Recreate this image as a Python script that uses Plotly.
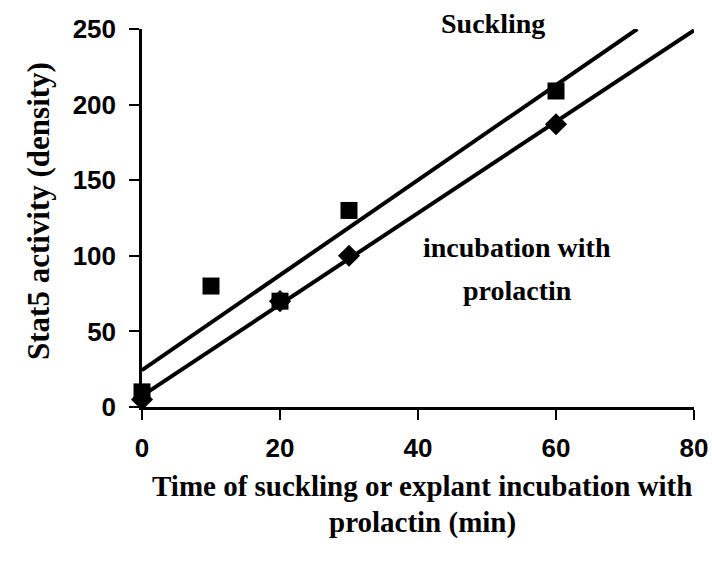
import numpy as np
import plotly.graph_objects as go

# Data
suck_x = [0, 10, 20, 30, 60]
suck_y = [10, 80, 70, 130, 209]
prl_x = [0, 20, 30, 60]
prl_y = [5, 70, 100, 187]

x_ticks = [0, 20, 40, 60, 80]
y_ticks = [0, 50, 100, 150, 200, 250]
x_range = [0, 80]
y_range = [0, 250]

SERIF = "Liberation Serif, Times New Roman, serif"
SANS = "Liberation Sans, Arial, sans-serif"

# The page body margin is removed (see post_script), so figure pixels = page pixels.
W, H = 712, 563
L, T = 142, 29
R = W - 694
B = H - 407
PW, PH = W - L - R, H - T - B


def px(xp):
    return (xp - L) / PW


def py(yp):
    return (H - B - yp) / PH


def fit_line(xs, ys, xmax, ymax):
    m, b = np.polyfit(xs, ys, 1)
    x_end = min(xmax, (ymax - b) / m)
    return [0, x_end], [b, m * x_end + b]


fig = go.Figure()

lx, ly = fit_line(suck_x, suck_y, x_range[1], y_range[1])
fig.add_trace(go.Scatter(x=lx, y=ly, mode="lines",
                         line=dict(color="black", width=4), cliponaxis=False,
                         showlegend=False, hoverinfo="skip"))
lx, ly = fit_line(prl_x, prl_y, x_range[1], y_range[1])
fig.add_trace(go.Scatter(x=lx, y=ly, mode="lines",
                         line=dict(color="black", width=4), cliponaxis=False,
                         showlegend=False, hoverinfo="skip"))

fig.add_trace(go.Scatter(x=suck_x, y=suck_y, mode="markers", name="Suckling",
                         marker=dict(symbol="square", size=17, color="black"),
                         cliponaxis=False, showlegend=False))
fig.add_trace(go.Scatter(x=prl_x, y=prl_y, mode="markers", name="incubation with prolactin",
                         marker=dict(symbol="diamond", size=17, color="black"),
                         cliponaxis=False, showlegend=False))


def label(text, xp, yp, size, angle=0):
    fig.add_annotation(x=px(xp), y=py(yp), xref="paper", yref="paper",
                       text=f"<b>{text}</b>", showarrow=False, textangle=angle,
                       xanchor="center", yanchor="middle",
                       font=dict(family=SERIF, size=size, color="black"))


label("Suckling", 493, 24, 28)
label("incubation with", 517, 247, 28)
label("prolactin", 517, 290, 28)
label("Time of suckling or explant incubation with", 422, 486, 29)
label("prolactin (min)", 422, 522, 29)
label("Stat5 activity (density)", 38, 211, 31, angle=-90)

fig.update_layout(
    width=W, height=H,
    margin=dict(l=L, r=R, t=T, b=B, autoexpand=False),
    paper_bgcolor="white", plot_bgcolor="white",
    font=dict(family=SANS, color="black"),
)
fig.update_xaxes(
    range=x_range, tickvals=x_ticks, ticktext=[f"<b>{v}</b>" for v in x_ticks],
    showgrid=False, zeroline=False, showline=True, linecolor="black", linewidth=2.5,
    ticks="outside", ticklen=10, tickwidth=2, tickcolor="black", ticklabelstandoff=6,
    tickfont=dict(family=SANS, size=26, color="black"), automargin=False,
)
fig.update_yaxes(
    range=y_range, tickvals=y_ticks, ticktext=[f"<b>{v}</b>" for v in y_ticks],
    showgrid=False, zeroline=False, showline=True, linecolor="black", linewidth=2.5,
    ticks="outside", ticklen=10, tickwidth=2, tickcolor="black", ticklabelstandoff=8,
    tickfont=dict(family=SANS, size=26, color="black"), automargin=False,
)

fig.write_html(
    "out.html",
    config={"displayModeBar": False},
    post_script="document.documentElement.style.overflow='hidden';"
                "document.body.style.margin='0';document.body.style.overflow='hidden';",
)
